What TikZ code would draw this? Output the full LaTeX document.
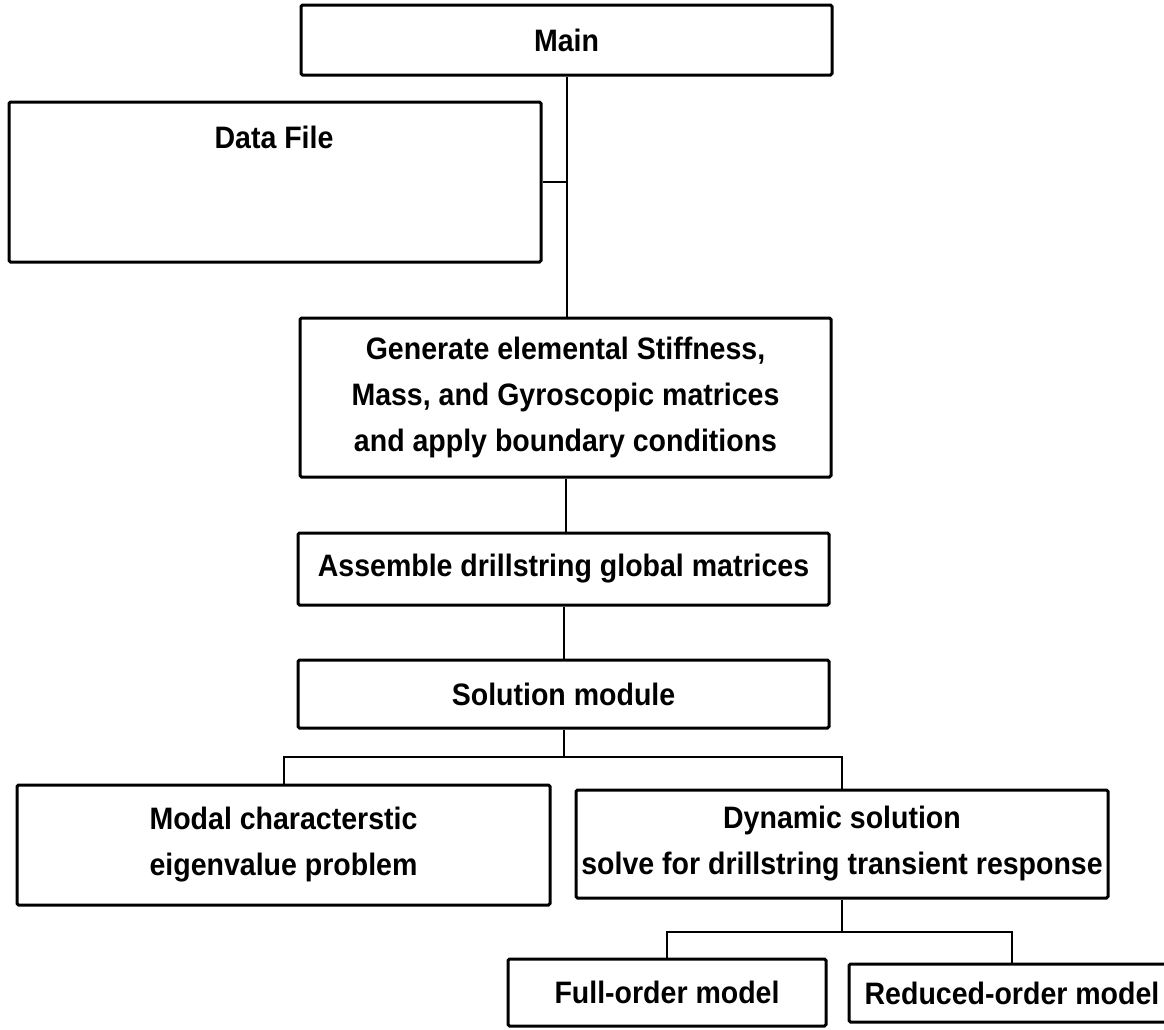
\documentclass[tikz,border=0pt]{standalone}
\usepackage{fontspec}
\setmainfont{Liberation Sans}
\newfontfamily\boxfont{Liberation Sans}[UprightFont={* Bold}, FakeStretch=0.92]
\begin{document}
\begin{tikzpicture}[x=1pt,y=-1pt,
  box/.style={draw=black, line width=3pt, rounded corners=1.5pt, inner sep=0pt, align=center,
    font=\boxfont\fontsize{31}{46}\selectfont},
  conn/.style={draw=black, line width=2pt},
  lbl/.style={inner sep=0pt, font=\boxfont\fontsize{31}{46}\selectfont}]
\useasboundingbox (0,0) rectangle (1164,1029);
% boxes
\node[box, minimum width=531, minimum height=70] (main) at (566.5,40) {Main};
\node[box, minimum width=532, minimum height=160] (data) at (275,182) {};
\node[lbl] (datalabel) at (274,137) {Data File};
\node[box, minimum width=531, minimum height=159] (gen) at (565.5,397.5)
  {Generate elemental Stiffness,\\Mass, and Gyroscopic matrices\\and apply boundary conditions};
\node[box, minimum width=531, minimum height=72] (asm) at (563.5,569) {Assemble drillstring global matrices};
\node[box, minimum width=531, minimum height=68] (sol) at (563.5,694) {Solution module};
\node[box, minimum width=533, minimum height=120] (modal) at (283.5,845)
  {Modal characterstic\\eigenvalue problem};
\node[box, minimum width=532, minimum height=108] (dyn) at (842,844)
  {Dynamic solution\\solve for drillstring transient response};
\node[box, minimum width=318, minimum height=67] (full) at (667,992.5) {Full-order model};
\node[box, minimum width=326, minimum height=58] (red) at (1012,993) {Reduced-order model};
% connectors
\coordinate (bus1) at (563.5,757);
\coordinate (bus2) at (842,932);
\draw[conn] (main.south) -- (main.south |- gen.north);
\draw[conn] (data.east) -- (data.east -| main.south);
\draw[conn] (gen.south) -- (gen.south |- asm.north);
\draw[conn] (asm.south) -- (asm.south |- sol.north);
\draw[conn] (sol.south) -- (bus1);
\draw[conn] (modal.north) -- (modal.north |- bus1) -- (dyn.north |- bus1) -- (dyn.north);
\draw[conn] (dyn.south) -- (bus2);
\draw[conn] (full.north) -- (full.north |- bus2) -- (red.north |- bus2) -- (red.north);
\end{tikzpicture}
\end{document}
